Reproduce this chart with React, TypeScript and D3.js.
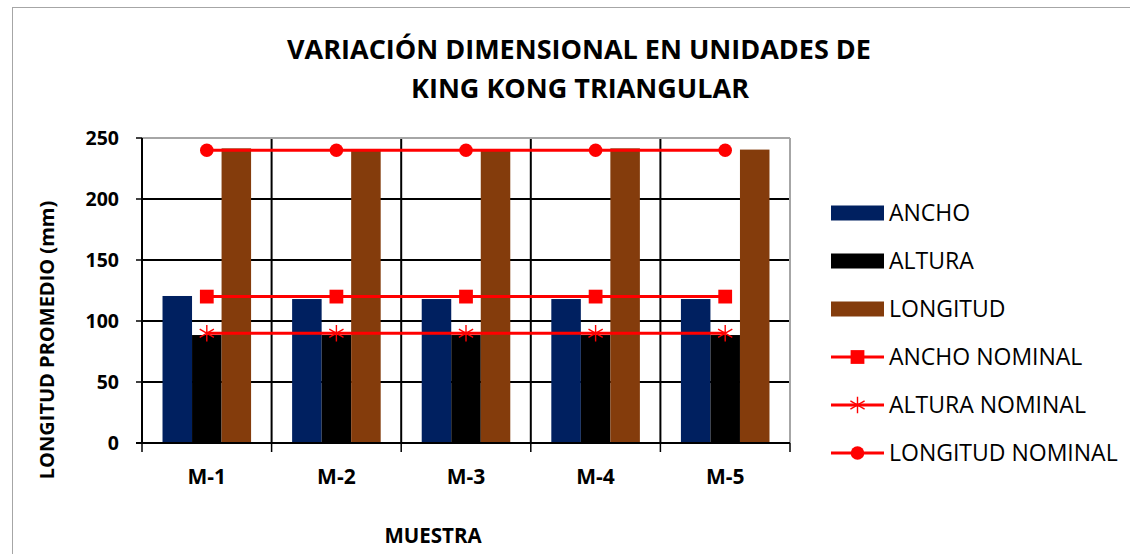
import React from 'react';
import * as d3 from 'd3';

const categories = ['M-1', 'M-2', 'M-3', 'M-4', 'M-5'];
const barSeries = ['ANCHO', 'ALTURA', 'LONGITUD'];
const ancho = [120.5, 118, 118, 118, 118];
const altura = [88.5, 88.5, 88.5, 88.5, 88.5];
const longitud = [241.5, 241, 241, 241.5, 240.5];
const anchoNominal = [120, 120, 120, 120, 120];
const alturaNominal = [90, 90, 90, 90, 90];
const longitudNominal = [240, 240, 240, 240, 240];
const yTicks = [0, 50, 100, 150, 200, 250];

const barColors: Record<string, string> = {
    ANCHO: '#002060',
    ALTURA: '#000000',
    LONGITUD: '#843C0C'
};

const FONT = "'Open Sans', 'Noto Sans', sans-serif";

const W = 1130;
const H = 554;
const plot = { left: 142, right: 790, top: 138, bottom: 443 };

type Marker = 'square' | 'asterisk' | 'circle';

const markerPath = (m: Marker): string => {
    if (m === 'square') return d3.symbol(d3.symbolSquare, 190)() as string;
    if (m === 'circle') return d3.symbol(d3.symbolCircle, 145)() as string;
    return d3.symbol(d3.symbolAsterisk, 190)() as string;
};

const MarkerShape: React.FC<{ m: Marker; x: number; y: number }> = ({ m, x, y }) => (
    <path
        d={markerPath(m)}
        transform={`translate(${x},${y})`}
        fill={m === 'asterisk' ? 'none' : '#FF0000'}
        stroke="#FF0000"
        strokeWidth={m === 'asterisk' ? 1.4 : 0}
    />
);

const App: React.FC = () => {
    const x = d3.scaleBand<string>().domain(categories).range([plot.left, plot.right]).padding(0);
    const xInner = d3.scaleBand<string>()
        .domain(barSeries)
        .range([0, x.bandwidth()])
        .paddingInner(0)
        .paddingOuter(0.695);
    const y = d3.scaleLinear().domain([0, 250]).range([plot.bottom, plot.top]);

    const barData: Record<string, number[]> = { ANCHO: ancho, ALTURA: altura, LONGITUD: longitud };

    const lines: Array<{ name: string; values: number[]; marker: Marker }> = [
        { name: 'ANCHO NOMINAL', values: anchoNominal, marker: 'square' },
        { name: 'ALTURA NOMINAL', values: alturaNominal, marker: 'asterisk' },
        { name: 'LONGITUD NOMINAL', values: longitudNominal, marker: 'circle' }
    ];

    const center = (c: string) => (x(c) as number) + x.bandwidth() / 2;
    const lineGen = d3.line<number>()
        .x((_, i) => center(categories[i]))
        .y(d => y(d));

    const boundaries = [...categories.map(c => x(c) as number), plot.right];

    const legendX = 831;
    const legendY0 = 213;
    const legendStep = 48;

    return (
        <svg width={W} height={H} style={{ position: 'absolute', left: 0, top: 0, background: '#fff' }}
            fontFamily={FONT}>
            <rect x={12.5} y={7.5} width={W} height={H} fill="#fff" stroke="#A6A6A6" strokeWidth={1} />

            {/* title */}
            <text x={579} y={59} textAnchor="middle" fontSize={27} fontWeight="bold" fill="#000">
                VARIACIÓN DIMENSIONAL EN UNIDADES DE
            </text>
            <text x={580} y={98} textAnchor="middle" fontSize={27} fontWeight="bold" fill="#000">
                KING KONG TRIANGULAR
            </text>

            {/* gridlines */}
            {yTicks.filter(t => t > 0 && t < 250).map(t => (
                <line key={`gy${t}`} x1={plot.left} x2={plot.right} y1={y(t)} y2={y(t)} stroke="#000" strokeWidth={2} />
            ))}
            {boundaries.slice(1, -1).map((b, i) => (
                <line key={`gx${i}`} x1={b} x2={b} y1={plot.top} y2={plot.bottom} stroke="#000" strokeWidth={2} />
            ))}
            <line x1={plot.left} x2={plot.right} y1={plot.top} y2={plot.top} stroke="#A6A6A6" strokeWidth={2} />
            <line x1={plot.right} x2={plot.right} y1={plot.top} y2={plot.bottom} stroke="#A6A6A6" strokeWidth={2} />

            {/* bars */}
            {categories.map((c, i) => (
                <g key={c} transform={`translate(${x(c)},0)`}>
                    {barSeries.map(s => (
                        <rect
                            key={s}
                            x={xInner(s)}
                            y={y(barData[s][i])}
                            width={xInner.bandwidth()}
                            height={plot.bottom - y(barData[s][i])}
                            fill={barColors[s]}
                        />
                    ))}
                </g>
            ))}

            {/* axes */}
            <line x1={plot.left} x2={plot.left} y1={plot.top} y2={plot.bottom} stroke="#000" strokeWidth={2} />
            <line x1={plot.left - 6} x2={plot.right} y1={plot.bottom} y2={plot.bottom} stroke="#000" strokeWidth={2} />
            {yTicks.map(t => (
                <g key={`yt${t}`}>
                    <line x1={plot.left - 6} x2={plot.left} y1={y(t)} y2={y(t)} stroke="#000" strokeWidth={1.5} />
                    <text x={119} y={y(t)} dy="0.36em" textAnchor="end" fontSize={19.5} fontWeight="bold">{t}</text>
                </g>
            ))}
            {boundaries.map((b, i) => (
                <line key={`xt${i}`} x1={b} x2={b} y1={plot.bottom} y2={plot.bottom + 9} stroke="#000" strokeWidth={1.5} />
            ))}
            {categories.map(c => (
                <text key={`xl${c}`} x={center(c)} y={484} textAnchor="middle" fontSize={21} fontWeight="bold">{c}</text>
            ))}

            {/* nominal lines */}
            {lines.map(l => (
                <g key={l.name}>
                    <path d={lineGen(l.values) as string} fill="none" stroke="#FF0000" strokeWidth={3} />
                    {l.values.map((v, i) => (
                        <MarkerShape key={i} m={l.marker} x={center(categories[i])} y={y(v)} />
                    ))}
                </g>
            ))}

            {/* axis titles */}
            <text x={433} y={543} textAnchor="middle" fontSize={20.5} fontWeight="bold">MUESTRA</text>
            <text transform="translate(54,340) rotate(-90)" textAnchor="middle" fontSize={20} fontWeight="bold">
                LONGITUD PROMEDIO  (mm)
            </text>

            {/* legend */}
            {barSeries.map((s, i) => (
                <g key={`lg${s}`} transform={`translate(${legendX},${legendY0 + i * legendStep})`}>
                    <rect x={0} y={-7.5} width={53} height={15} fill={barColors[s]} />
                    <text x={58} y={0} dy="0.36em" fontSize={23}>{s}</text>
                </g>
            ))}
            {lines.map((l, i) => (
                <g key={`ll${l.name}`} transform={`translate(${legendX},${legendY0 + (i + 3) * legendStep})`}>
                    <line x1={0} x2={53} y1={0} y2={0} stroke="#FF0000" strokeWidth={3} />
                    <MarkerShape m={l.marker} x={26.5} y={0} />
                    <text x={58} y={0} dy="0.36em" fontSize={23}>{l.name}</text>
                </g>
            ))}
        </svg>
    );
};

export default App;
